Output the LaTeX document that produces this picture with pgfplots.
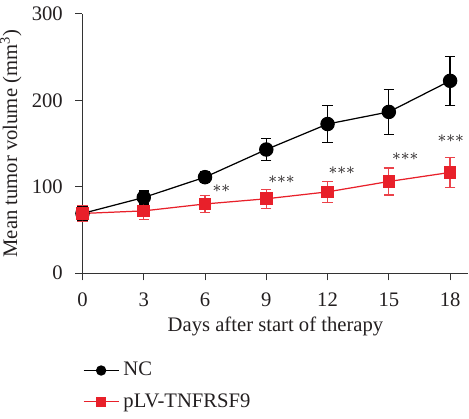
\documentclass[border=0pt]{standalone}
\usepackage{pgfplots}
\pgfplotsset{compat=1.18}
\usepackage{fontspec}
\setmainfont{Liberation Serif}
\definecolor{myred}{RGB}{232,32,42}
\definecolor{txt}{RGB}{35,31,32}
\begin{document}
\begin{tikzpicture}
\begin{axis}[
 scale only axis, width=187pt, height=125.6pt,
 xmin=0, xmax=18.9, ymin=0, ymax=300,
 axis lines=left, axis line style={-, black!80, line width=0.5pt},
 xtick={0,3,...,18}, ytick={0,100,200,300},
 tick align=outside, major tick length=3.5pt, tick style={black!80, line width=0.5pt},
 /pgf/number format/assume math mode=true,
 tick label style={font=\fontsize{10}{12}\selectfont, text=txt},
 yticklabel shift=2.5pt, xticklabel shift=2.5pt,
 xlabel={Days after start of therapy},
 ylabel={Mean tumor volume (mm\textsuperscript{3})},
 label style={font=\fontsize{10}{12}\selectfont, text=txt},
 ylabel style={inner sep=0pt, yshift=1.5pt},
 xlabel style={yshift=2pt},
 legend style={at={(axis description cs:0,-0.31)}, anchor=north west, draw=none, fill=none,
   font=\fontsize{10}{12}\selectfont, text=txt, inner xsep=0pt, row sep=3pt, cells={anchor=west}},
 clip=false,
]
\addplot[black, line width=0.6pt, mark=*, mark size=3.2pt, mark options={fill=black, solid},
  legend image post style={mark size=2.2pt},
  error bars/.cd, y dir=both, y explicit,
  error bar style={line width=0.6pt, black},
  error mark options={rotate=90, mark size=2.5pt, line width=0.6pt, black}]
 table[x=x, y=y, y error=e] {
x y e
0 69 8
3 87.5 7.5
6 111 6.5
9 143 13
12 172.5 21.5
15 186.5 26
18 222.5 28.5
};
\addlegendentry{NC}
\addplot[myred, line width=0.6pt, mark=square*, mark size=2.75pt, mark options={fill=myred, solid},
  legend image post style={mark size=2.2pt},
  error bars/.cd, y dir=both, y explicit,
  error bar style={line width=0.6pt, myred!85},
  error mark options={rotate=90, mark size=2.5pt, line width=0.6pt, myred!85}]
 table[x=x, y=y, y error=e] {
x y e
0 69 9.5
3 72 10
6 80 10
9 86 11
12 94 12
15 106 15.5
18 116.5 17.5
};
\addlegendentry{pLV-TNFRSF9}
\node[inner sep=0pt, text=txt, font=\fontsize{8.5}{8.5}\selectfont] at (axis cs:6.8,98) {${\ast}{\ast}$};
\node[inner sep=0pt, text=txt, font=\fontsize{8.5}{8.5}\selectfont] at (axis cs:9.75,108) {${\ast}{\ast}{\ast}$};
\node[inner sep=0pt, text=txt, font=\fontsize{8.5}{8.5}\selectfont] at (axis cs:12.7,118) {${\ast}{\ast}{\ast}$};
\node[inner sep=0pt, text=txt, font=\fontsize{8.5}{8.5}\selectfont] at (axis cs:15.8,135) {${\ast}{\ast}{\ast}$};
\node[inner sep=0pt, text=txt, font=\fontsize{8.5}{8.5}\selectfont] at (axis cs:18.03,155) {${\ast}{\ast}{\ast}$};
\end{axis}
\end{tikzpicture}
\end{document}
